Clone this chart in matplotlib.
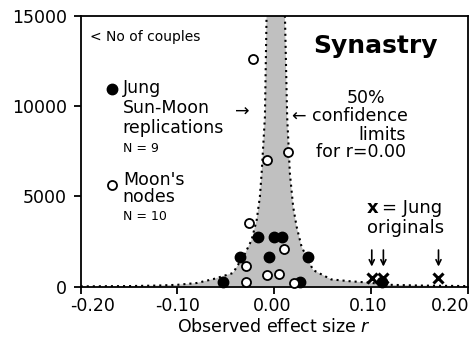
import matplotlib
matplotlib.use("Agg")
import matplotlib.pyplot as plt
import matplotlib.transforms as mtransforms

plt.rcParams['font.family'] = ['DejaVu Sans']
plt.rcParams['axes.unicode_minus'] = False

# 50% confidence limits for r=0.00
left_r = [-0.200, -0.150, -0.120, -0.100, -0.080, -0.063, -0.0426, -0.030,
          -0.0233, -0.018, -0.0147, -0.0129, -0.0113, -0.0095, -0.0078]
left_n = [15, 30, 60, 100, 200, 415, 750, 1840, 2578, 3690, 4980, 6277,
          7750, 9390, 15000]
right_r = [0.0112, 0.0135, 0.0150, 0.0163, 0.0197, 0.0233, 0.0284, 0.0404,
           0.059, 0.078, 0.096, 0.120, 0.150, 0.200]
right_n = [15000, 9390, 7750, 6277, 4425, 3316, 2207, 915, 400, 300, 230,
           100, 60, 30]

# Jung Sun-Moon replications (N = 9)
jung_rep_r = [-0.0164, -0.0002, 0.0081, -0.0353, -0.0051, 0.0352, -0.0532, 0.0267, 0.1111]
jung_rep_n = [2760, 2760, 2760, 1655, 1655, 1655, 271, 271, 250]

# Moon's nodes (N = 10)
nodes_r = [-0.0216, -0.0078, 0.0146, -0.0257, 0.0101, -0.0291, -0.0078, 0.0050, -0.0291, 0.0208]
nodes_n = [12585, 7010, 7470, 3505, 2065, 1140, 642, 698, 271, 216]

# Jung originals
jung_orig_r = [0.101, 0.113, 0.170]
jung_orig_n = [450, 450, 450]

x_ticks = [-0.20, -0.10, 0.00, 0.10, 0.20]
x_ticklabels = ['-0.20', '-0.10', '0.00', '0.10', '0.20']
y_ticks = [0, 5000, 10000, 15000]

fig = plt.figure(figsize=(4.7, 3.4), dpi=100)
ax = fig.add_axes([0.1717, 0.157, 0.823, 0.797])

# shaded region inside the limits
ax.fill(left_r + right_r, left_n + right_n, color='#c0c0c0', lw=0, zorder=1)
ax.plot(left_r, left_n, color='black', lw=1.5, ls=(0, (1, 1.9)), zorder=2)
ax.plot(right_r, right_n, color='black', lw=1.5, ls=(0, (1, 1.9)), zorder=2)

ax.plot(jung_rep_r, jung_rep_n, 'o', color='black', ms=7.5, zorder=4, clip_on=False)
ax.plot(nodes_r, nodes_n, 'o', mfc='white', mec='black', mew=1.3, ms=6.5, zorder=4, clip_on=False)
ax.plot(jung_orig_r, jung_orig_n, 'x', color='black', ms=6.5, mew=2.2, zorder=5, clip_on=False)

ax.set_xlim(-0.2, 0.2)
ax.set_ylim(0, 15000)
ax.set_xticks(x_ticks)
ax.set_yticks(y_ticks)
ax.set_xticklabels([])
ax.tick_params(labelsize=12.5, length=5, width=1.3, direction='out')
ax.tick_params(axis='y', pad=5)
for s in ax.spines.values():
    s.set_linewidth(1.3)

# x tick labels as texts, the end ones nudged inwards like in the original
blend = mtransforms.blended_transform_factory(ax.transData, ax.transAxes)
nudge = [12, 0, -2, -3, -17]
for r, lab, dx in zip(x_ticks, x_ticklabels, nudge):
    tr = mtransforms.offset_copy(blend, fig=fig, x=dx, y=0, units='dots')
    ax.text(r, -0.039, lab, fontsize=12.5, ha='center', va='top', transform=tr)

ax.set_xlabel('Observed effect size $\\mathit{r}$', fontsize=12.5)
ax.xaxis.set_label_coords(0.5, -0.115)

# annotations (axes fraction)
ta = ax.transAxes
ax.text(0.024, 0.92, '< No of couples', fontsize=10, va='center', transform=ta)
ax.text(0.763, 0.861, 'Synastry', fontsize=18, fontweight='bold', ha='center', transform=ta)

ax.text(0.737, 0.677, '50%', fontsize=12.5, ha='center', transform=ta)
ax.text(0.399, 0.627, '→', fontsize=12.5, va='baseline', transform=ta)
ax.text(0.547, 0.611, '← confidence', fontsize=12.5, transform=ta)
ax.text(0.779, 0.541, 'limits', fontsize=12.5, ha='center', transform=ta)
ax.text(0.724, 0.478, 'for r=0.00', fontsize=12.5, ha='center', transform=ta)

# legend
ax.plot([0.080], [0.729], 'o', color='black', ms=7.5, transform=ta, clip_on=False)
ax.text(0.109, 0.713, 'Jung', fontsize=12.5, transform=ta)
ax.text(0.109, 0.640, 'Sun-Moon', fontsize=12.5, transform=ta)
ax.text(0.109, 0.566, 'replications', fontsize=12.5, transform=ta)
ax.text(0.109, 0.497, 'N = 9', fontsize=9, transform=ta)

ax.plot([0.080], [0.375], 'o', mfc='white', mec='black', mew=1.3, ms=6.5, transform=ta, clip_on=False)
ax.text(0.109, 0.375, "Moon's", fontsize=12.5, transform=ta)
ax.text(0.109, 0.312, 'nodes', fontsize=12.5, transform=ta)
ax.text(0.109, 0.246, 'N = 10', fontsize=9, transform=ta)

ax.text(0.740, 0.272, 'x', fontsize=13, fontweight='bold', transform=ta)
ax.text(0.778, 0.272, '= Jung', fontsize=13, transform=ta)
ax.text(0.840, 0.197, 'originals', fontsize=13, ha='center', transform=ta)

# arrows down to the Jung originals
for r in jung_orig_r:
    ax.annotate('', xy=(r, 0.074), xytext=(r, 0.135), xycoords=blend, textcoords=blend,
                arrowprops=dict(arrowstyle='->', lw=1.2, color='black',
                                shrinkA=0, shrinkB=0, mutation_scale=9))

fig.savefig('out.png', dpi=100)
